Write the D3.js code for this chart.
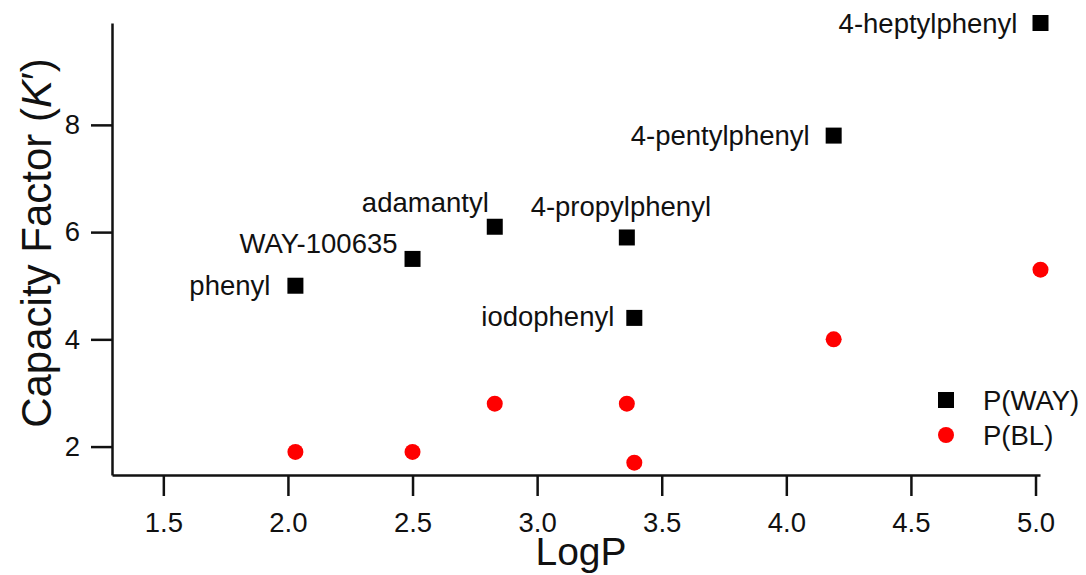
<!DOCTYPE html>
<html>
<head>
<meta charset="utf-8">
<script src="https://cdn.jsdelivr.net/npm/d3@7"></script>
<style>
  body { margin: 0; background: #fff; }
  svg text { font-family: "Liberation Sans", Arial, sans-serif; fill: #111; }
</style>
</head>
<body>
<div id="chart"></div>
<script>
// Compuestos y valores
const compounds = ['phenyl', 'WAY-100635', 'adamantyl', '4-propylphenyl', 'iodophenyl', '4-pentylphenyl', '4-heptylphenyl'];
const logP = [2.03, 2.50, 2.83, 3.36, 3.39, 4.19, 5.02];
const kWay = [5.0, 5.5, 6.1, 5.9, 4.4, 7.8, 9.9];
const kBl = [1.9, 1.9, 2.8, 2.8, 1.7, 4.0, 5.3];
const xTicks = [1.5, 2.0, 2.5, 3.0, 3.5, 4.0, 4.5, 5.0];
const yTicks = [2, 4, 6, 8];
const seriesNames = ['P(WAY)', 'P(BL)'];

// Desplazamiento de cada etiqueta respecto a su punto (solo presentacion)
const labelLayout = [
    { dx: -25, dy: 0, anchor: 'end' },
    { dx: -15, dy: -15, anchor: 'end' },
    { dx: -6, dy: -24, anchor: 'end' },
    { dx: -6, dy: -31, anchor: 'middle' },
    { dx: -20, dy: -1, anchor: 'end' },
    { dx: -24, dy: 0, anchor: 'end' },
    { dx: -23, dy: 0, anchor: 'end' }
];

const W = 1086, H = 575;
const FS = 27.5;
const svg = d3.select('#chart').append('svg')
    .attr('width', W)
    .attr('height', H);

const x = d3.scaleLinear().domain([1.294, 5.018]).range([112, 1040]);
const y = d3.scaleLinear().domain([1.47, 9.9]).range([475, 23]);

// Ejes
const xAxis = svg.append('g')
    .attr('transform', `translate(0,${y.range()[0]})`)
    .call(d3.axisBottom(x).tickValues(xTicks).tickFormat(d3.format('.1f')).tickSize(21).tickSizeOuter(0).tickPadding(16));
const yAxis = svg.append('g')
    .attr('transform', `translate(${x.range()[0]},0)`)
    .call(d3.axisLeft(y).tickValues(yTicks).tickFormat(d3.format('d')).tickSize(21).tickSizeOuter(0).tickPadding(11));

[xAxis, yAxis].forEach(g => {
    g.select('.domain').attr('stroke', '#111').attr('stroke-width', 2.5);
    g.selectAll('.tick line').attr('stroke', '#111').attr('stroke-width', 2.5);
    g.selectAll('.tick text')
        .attr('fill', '#111')
        .style('font-size', FS + 'px')
        .style('font-family', '"Liberation Sans", Arial, sans-serif');
});

// Titulos de ejes
svg.append('text')
    .attr('x', 581)
    .attr('y', 565)
    .attr('text-anchor', 'middle')
    .style('font-size', '39px')
    .text('LogP');

const yTitle = svg.append('text')
    .attr('transform', 'translate(51,243) rotate(-90)')
    .attr('text-anchor', 'middle')
    .style('font-size', '42px');
yTitle.append('tspan').text('Capacity Factor (');
yTitle.append('tspan').style('font-style', 'italic').text('K');
yTitle.append('tspan').text('\u2032)');

// Serie P(BL): circulos rojos
svg.append('g').selectAll('circle')
    .data(logP)
    .join('circle')
    .attr('cx', d => x(d))
    .attr('cy', (d, i) => y(kBl[i]))
    .attr('r', 8)
    .attr('fill', '#ff0000');

// Serie P(WAY): cuadrados negros
const sq = 16;
svg.append('g').selectAll('rect')
    .data(logP)
    .join('rect')
    .attr('x', d => x(d) - sq / 2)
    .attr('y', (d, i) => y(kWay[i]) - sq / 2)
    .attr('width', sq)
    .attr('height', sq)
    .attr('fill', '#000');

// Etiquetas de compuestos
svg.append('g').selectAll('text')
    .data(compounds)
    .join('text')
    .attr('x', (d, i) => x(logP[i]) + labelLayout[i].dx)
    .attr('y', (d, i) => y(kWay[i]) + labelLayout[i].dy + 9.5)
    .attr('text-anchor', (d, i) => labelLayout[i].anchor)
    .style('font-size', FS + 'px')
    .text(d => d);

// Leyenda
const legend = svg.append('g').attr('transform', 'translate(946,400)');
legend.append('rect')
    .attr('x', -sq / 2).attr('y', -sq / 2)
    .attr('width', sq).attr('height', sq)
    .attr('fill', '#000');
legend.append('circle')
    .attr('cx', 0).attr('cy', 35).attr('r', 8)
    .attr('fill', '#ff0000');
legend.selectAll('text.lg')
    .data(seriesNames)
    .join('text')
    .attr('class', 'lg')
    .attr('x', 37)
    .attr('y', (d, i) => i * 35 + 9.5)
    .style('font-size', FS + 'px')
    .text(d => d);
</script>
</body>
</html>
